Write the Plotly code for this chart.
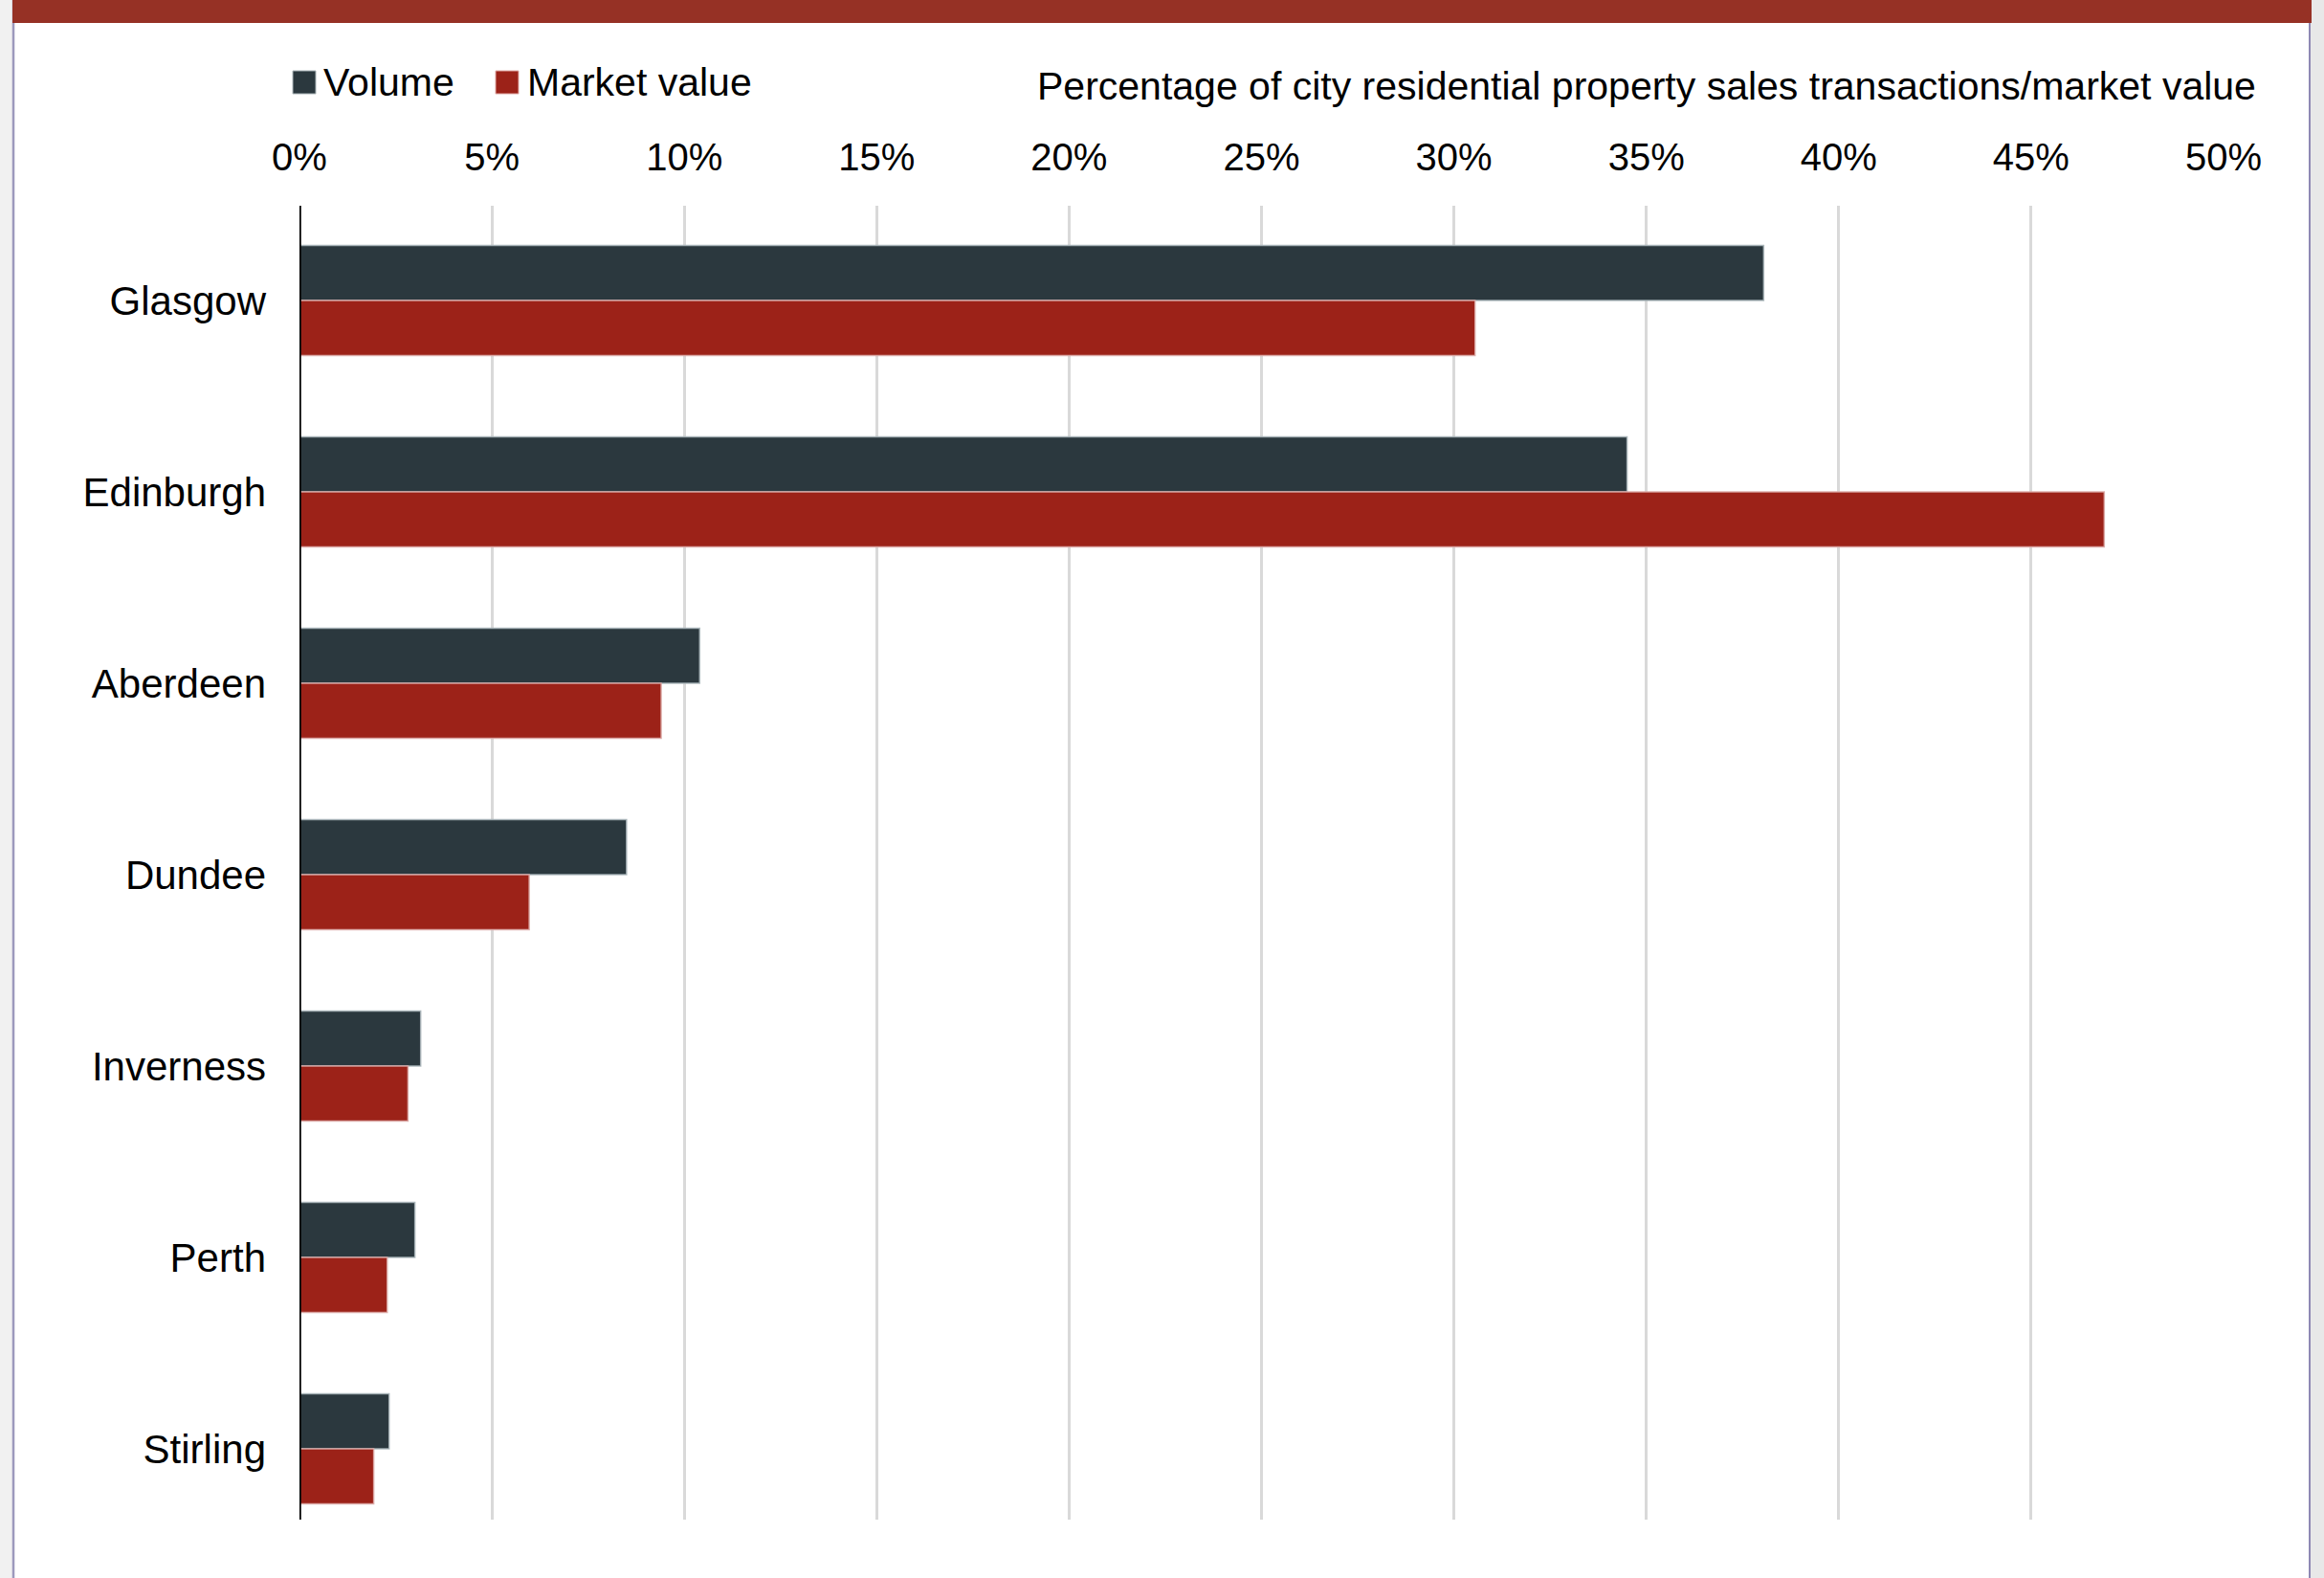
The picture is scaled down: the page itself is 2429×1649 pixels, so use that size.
import plotly.graph_objects as go

cities = ["Glasgow", "Edinburgh", "Aberdeen", "Dundee", "Inverness", "Perth", "Stirling"]
volume = [38.05, 34.5, 10.4, 8.5, 3.15, 3.0, 2.33]
market_value = [30.55, 46.9, 9.4, 5.97, 2.82, 2.28, 1.93]
x_ticks = [0, 5, 10, 15, 20, 25, 30, 35, 40, 45, 50]
x_tick_labels = [f"{t}%" for t in x_ticks]
series_names = ["Volume", "Market value"]
axis_title = "Percentage of city residential property sales transactions/market value"

W, H = 2429, 1649
L, R, T, B = 313, 105, 215, 61
PW, PH = W - L - R, H - T - B

C_VOL = "#2b383e"
C_MV = "#9c2218"
C_BAND = "#963125"
FONT = "Liberation Sans, Arial, sans-serif"


def px(x):
    return (x - L) / PW


def py(y):
    return (H - B - y) / PH


fig = go.Figure()
fig.add_trace(go.Bar(y=cities, x=volume, orientation="h", name=series_names[0],
                     marker=dict(color=C_VOL, line=dict(color="rgba(170,182,186,0.9)", width=1.5))))
fig.add_trace(go.Bar(y=cities, x=market_value, orientation="h", name=series_names[1],
                     marker=dict(color=C_MV, line=dict(color="rgba(220,170,166,0.9)", width=1.5))))

shapes = [
    # outer page greys
    dict(type="rect", xref="paper", yref="paper", x0=px(0), x1=px(13), y0=py(H), y1=py(0),
         fillcolor="#f1f1f1", line=dict(width=0), layer="below"),
    dict(type="rect", xref="paper", yref="paper", x0=px(2415), x1=px(W), y0=py(H), y1=py(0),
         fillcolor="#e8e8e8", line=dict(width=0), layer="below"),
    dict(type="line", xref="paper", yref="paper", x0=px(14), x1=px(14), y0=py(H), y1=py(0),
         line=dict(color="#9d99bd", width=2.5)),
    dict(type="line", xref="paper", yref="paper", x0=px(2414), x1=px(2414), y0=py(H), y1=py(0),
         line=dict(color="#8e88b4", width=2)),
    # top band
    dict(type="rect", xref="paper", yref="paper", x0=px(13), x1=px(2416), y0=py(24), y1=py(0),
         fillcolor=C_BAND, line=dict(width=0)),
    # legend squares
    dict(type="rect", xref="paper", yref="paper", x0=px(306), x1=px(330), y0=py(98), y1=py(74),
         fillcolor=C_VOL, line=dict(color="#aab4b8", width=1)),
    dict(type="rect", xref="paper", yref="paper", x0=px(518), x1=px(542), y0=py(98), y1=py(74),
         fillcolor=C_MV, line=dict(color="#e0aaa6", width=1)),
]

annotations = [
    dict(text=series_names[0], xref="paper", yref="paper", x=px(336), y=py(86),
         xanchor="left", yanchor="middle", showarrow=False, font=dict(size=41, color="#000", family=FONT)),
    dict(text=series_names[1], xref="paper", yref="paper", x=px(549), y=py(86),
         xanchor="left", yanchor="middle", showarrow=False, font=dict(size=41, color="#000", family=FONT)),
    dict(text=axis_title, xref="paper", yref="paper", x=px(2360), y=py(90),
         xanchor="right", yanchor="middle", showarrow=False, font=dict(size=41, color="#000", family=FONT)),
]

fig.update_layout(
    width=W, height=H,
    margin=dict(l=L, r=R, t=T, b=B, autoexpand=False),
    paper_bgcolor="white", plot_bgcolor="white",
    barmode="group", bargap=0.425, bargroupgap=0,
    showlegend=False,
    font=dict(family=FONT, size=40, color="#000"),
    shapes=shapes, annotations=annotations,
    xaxis=dict(side="top", range=[0, 50], tickvals=x_ticks, ticktext=x_tick_labels,
               showgrid=True, gridcolor="#d9d9d9", gridwidth=3, zeroline=False,
               showline=False, ticks="", ticklabelstandoff=28,
               tickfont=dict(size=40, family=FONT, color="#000"), fixedrange=True),
    yaxis=dict(type="category", categoryorder="array", categoryarray=cities,
               range=[6.37, -0.495], showgrid=False, zeroline=False,
               showline=False, ticks="", ticklabelstandoff=34,
               tickfont=dict(size=42, family=FONT, color="#000"), fixedrange=True),
)

# black zero axis line at x=0 spanning the plot height
fig.add_shape(type="line", xref="x", yref="paper", x0=0, x1=0, y0=0, y1=1,
              line=dict(color="#000", width=3.5))

fig.write_html("out.html")
